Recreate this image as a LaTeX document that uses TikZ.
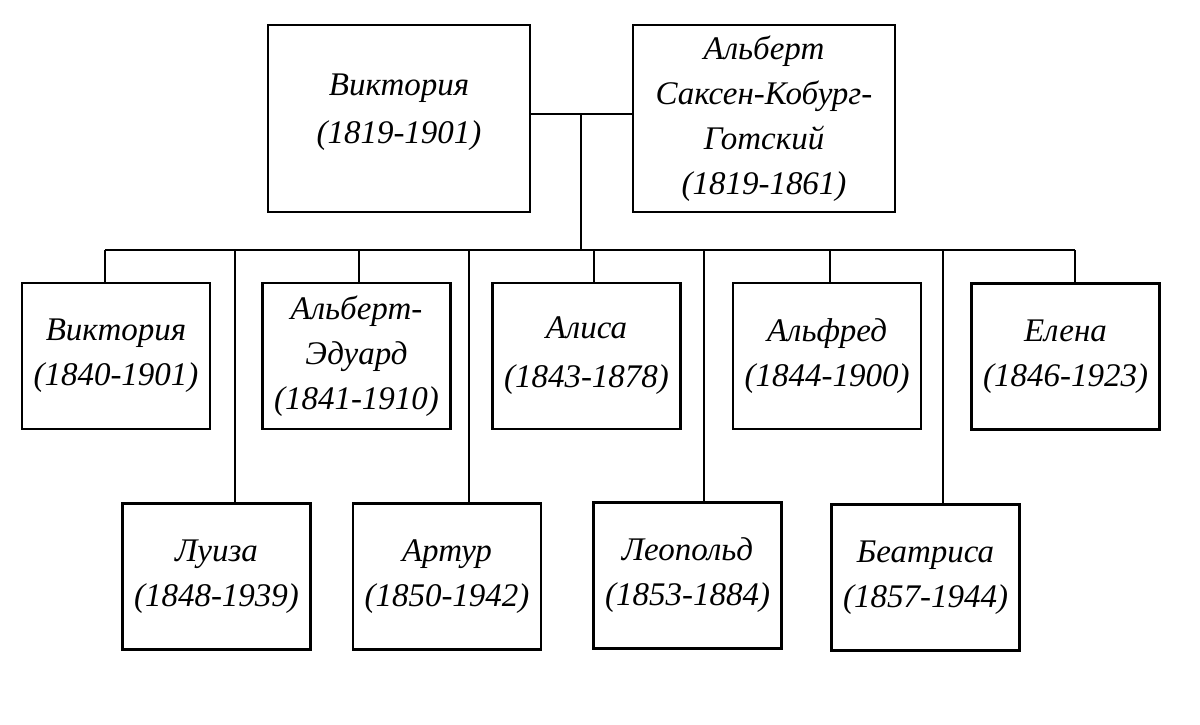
\documentclass[tikz,border=0pt]{standalone}
\usepackage{fontspec}
\setmainfont{Liberation Serif}
\newcommand{\namefont}{\fontsize{33}{45}\selectfont\itshape}
\begin{document}
\begin{tikzpicture}[
  x=1pt, y=-1pt,
  person/.style={draw, line width=2.6pt, align=center, font=\namefont,
    minimum width=188, minimum height=146, inner sep=0pt},
  parent/.style={person, minimum width=262, minimum height=187},
  link/.style={line width=2.4pt}
]
\useasboundingbox [fill=white] (0,0) rectangle (1200,725);

\node [parent] (queen) at (399,118.5) {Виктория\\[3pt](1819-1901)\\[-25pt]\mbox{}};
\node [parent] (consort) at (764,118.5) {Альберт\\Саксен-Кобург-\\Готский\\(1819-1861)};

\node [person] (vicky) at (116,356) {Виктория\\(1840-1901)};
\node [person] (bertie) at (356.5,356) {Альберт-\\Эдуард\\(1841-1910)};
\node [person] (alice) at (586.5,356) {Алиса\\[4pt](1843-1878)};
\node [person] (alfred) at (827,356) {Альфред\\(1844-1900)};
\node [person] (helena) at (1065.5,356.5) {Елена\\(1846-1923)};

\node [person] (louise) at (216.5,576.5) {Луиза\\(1848-1939)};
\node [person] (arthur) at (447,576.5) {Артур\\(1850-1942)};
\node [person] (leopold) at (687.5,575.5) {Леопольд\\(1853-1884)};
\node [person] (beatrice) at (925.5,577.5) {Беатриса\\(1857-1944)};

\coordinate (wed) at (581,114);
\coordinate (bus) at (581,250);
\coordinate (bus-l) at (105,250);
\coordinate (bus-r) at (1075,250);

\draw [link] (queen.east |- wed) -- (consort.west |- wed);
\draw [link] (wed) -- (bus);
\draw [link] (bus-l) -- (bus-r);

\foreach \n/\dx in {vicky/-11, bertie/2.5, alice/7.5, alfred/3, helena/9.5}
  \draw [link] ([xshift=\dx]\n.north) -- ([xshift=\dx]\n.north |- bus);
\foreach \n/\dx in {louise/18.5, arthur/22, leopold/16.5, beatrice/17.5}
  \draw [link] ([xshift=\dx]\n.north) -- ([xshift=\dx]\n.north |- bus);
\end{tikzpicture}
\end{document}
